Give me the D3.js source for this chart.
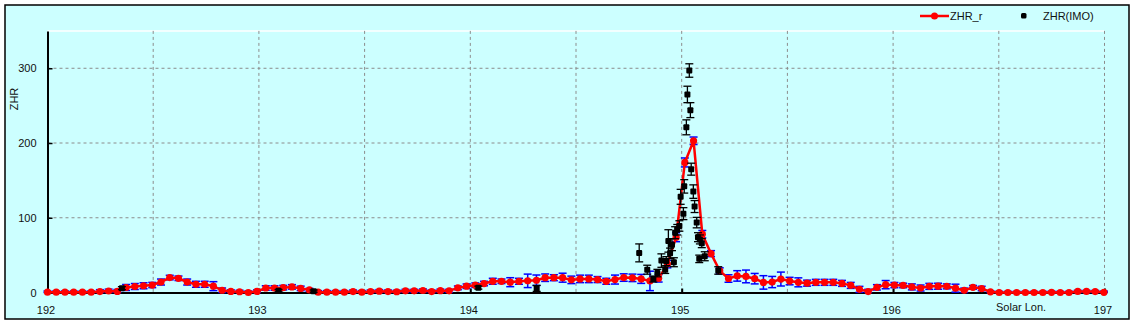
<!DOCTYPE html>
<html><head><meta charset="utf-8">
<script src="https://cdn.jsdelivr.net/npm/d3@7"></script>
<style>
body{margin:0;background:#fff}
svg{display:block}
text{font-family:"Liberation Sans",Arial,sans-serif;font-size:11px;fill:#111}
</style>
</head><body>
<svg id="c" width="1134" height="324"></svg>
<script>
// ---- data ----
const lonStart = 192.0;      // first hourly ZHR_r sample (solar longitude)
const lonStep = 0.0413;      // hourly step in solar longitude
const zhrR = [
 0.5,0.5,0.5,0.5,0.5,0.5,1.3,2,1.5,6.7,
 8,9,10,14,20,19,14,11,11,8.5,
 3,1.5,1,0,1.5,6,6,6.5,7.5,5.5,
 3.5,0.5,0.5,0.5,0.5,1.3,0.5,1.3,1.8,1.3,
 1,2.2,2.2,2.7,1.3,2.5,2.2,6.2,8.4,9.8,
 12,15,15,13.8,15,15.6,16.4,19.8,19.8,19.8,
 16.9,18.2,18.2,17.3,15,17.3,20,19.6,18.2,15.5,
 19,38,74,174,203,78,52,29,18.7,22.2,
 21.5,18.5,13.5,14,18,15.3,13.6,12.5,13.6,13.6,
 13.6,12.2,9.5,4.2,1.3,6.9,10.5,9.9,9.4,7.5,
 6,8.2,8.4,8.2,5.8,2.9,6.9,5.3,0.9,0,
 0,0,0,0,0,0.3,0,0,1.4,1.4,
 1.2,0.3
];
const zhrRErr = [
 1.5,1.5,1.5,1.5,1.5,1.5,2.5,2.5,2.5,4,
 4,4,3.5,4,3,3,4,4,4,6,
 3,2,2,2,2,3,3,3,3,3,
 2,2,2,2,2,2,2,2,2,2,
 2,2,2,2,2,2,2,2.5,3,3,
 3,4,3,6,4,9,7,5,4,6,
 5,5,5,4,4,6,5,5,6,13,
 5,5,6,6,5,5,4,4,5,7,
 8.5,7,9,7.5,9.3,5,6,4,4,4,
 4,4,4,4,3,3.6,5.5,3.5,3,4,
 4,4,4,3.3,5.3,3,2.5,3,1.5,1.5,
 1.5,1.5,1.5,1.5,1.5,1.5,1.5,1.5,1.5,1.5,
 1.5,1.5
];
const imoLon = [192.352,193.093,193.259,194.038,194.314,194.799,194.837,194.866,194.885,194.904,
 194.922,194.927,194.937,194.945,194.954,194.963,194.969,194.979,194.989,194.995,
 195.008,195.012,195.022,195.027,195.036,195.041,195.045,195.055,195.061,195.071,
 195.077,195.086,195.095,195.083,195.109,195.173];
const imoZhr = [5.8,2.5,1.8,6.5,5.5,53,30.5,18,26,42.7,
 30.5,42,69,52.4,64,40.5,80,84,89,128,
 105.5,142,221,265,297,244,165,135,115,93.5,
 74,71,66,45,48.5,29.5];
const imoErr = [2,1.5,1.5,2,4,12,6,4,5,9,
 5,6,15,7,8,6,8,7,7,10,
 8,9,10,11,9,10,8,9,8,7,
 6,6,6,5,6,5];
const xTicks = [192,193,194,195,196,197];
const xGrid = [192.5,193,193.5,194,194.5,195,195.5,196,196.5,197];
const yTicks = [0,100,200,300];
const yGrid = [100,200,300];

// ---- drawing ----
const svg = d3.select('#c');
svg.append('rect').attr('x',5).attr('y',5).attr('width',1124).attr('height',314)
  .attr('fill','#ccffff').attr('stroke','#000').attr('stroke-width',1.5);

const x = d3.scaleLinear().domain([192,197]).range([47.5,1104.5]);
const y = d3.scaleLinear().domain([0,350]).range([292.5,30.9]);

// top white edge of plot
svg.append('line').attr('x1',x(192)).attr('x2',x(197)).attr('y1',y(350)).attr('y2',y(350))
  .attr('stroke','#fff').attr('stroke-width',1.5);

// grid
svg.append('g').selectAll('line').data(xGrid).join('line')
  .attr('x1',d=>x(d)).attr('x2',d=>x(d)).attr('y1',y(350)).attr('y2',y(0))
  .attr('stroke','#8c8c8c').attr('stroke-width',1).attr('stroke-dasharray','3,3');
svg.append('g').selectAll('line').data(yGrid).join('line')
  .attr('x1',x(192)).attr('x2',x(197)).attr('y1',d=>y(d)).attr('y2',d=>y(d))
  .attr('stroke','#8c8c8c').attr('stroke-width',1).attr('stroke-dasharray','3,3');

// axes
const xa = svg.append('g').attr('transform',`translate(0,${y(0)})`)
  .call(d3.axisBottom(x).tickValues(xTicks).tickFormat(d3.format('d')).tickSize(-4).tickSizeOuter(0).tickPadding(14));
xa.select('.domain').attr('stroke','#000').attr('stroke-width',2);
xa.selectAll('.tick line').attr('stroke','#000').attr('stroke-width',2);
xa.selectAll('.tick text').attr('dx',-2).style('font-family','"Liberation Sans",Arial,sans-serif').style('font-size','11px').attr('fill','#111');

const ya = svg.append('g').attr('transform',`translate(${x(192)},0)`)
  .call(d3.axisLeft(y).tickValues(yTicks).tickSize(-5).tickSizeOuter(0).tickPadding(11));
ya.select('.domain').attr('stroke','#000').attr('stroke-width',2);
ya.selectAll('.tick line').attr('stroke','#000').attr('stroke-width',1.5);
ya.selectAll('.tick text').style('font-family','"Liberation Sans",Arial,sans-serif').style('font-size','11px').attr('fill','#111');

svg.append('text').attr('transform','translate(18,99) rotate(-90)').attr('text-anchor','middle').text('ZHR');
svg.append('text').attr('x',996).attr('y',311).text('Solar Lon.');

// ZHR_r
const rData = zhrR.map((v,i)=>({lon: lonStart + i*lonStep, v, e: zhrRErr[i]}));
const eb = svg.append('g').attr('stroke','#0000ff').attr('stroke-width',1.5);
rData.forEach(d=>{
  const cx = x(d.lon), y1 = y(Math.max(0,d.v-d.e)), y2 = y(d.v+d.e);
  eb.append('line').attr('x1',cx).attr('x2',cx).attr('y1',y1).attr('y2',y2);
  eb.append('line').attr('x1',cx-4).attr('x2',cx+4).attr('y1',y1).attr('y2',y1);
  eb.append('line').attr('x1',cx-4).attr('x2',cx+4).attr('y1',y2).attr('y2',y2);
});
svg.append('path').datum(rData)
  .attr('d',d3.line().x(d=>x(d.lon)).y(d=>y(d.v)))
  .attr('fill','none').attr('stroke','#ff0000').attr('stroke-width',2.5);
svg.append('g').selectAll('circle').data(rData).join('circle')
  .attr('cx',d=>x(d.lon)).attr('cy',d=>y(d.v)).attr('r',3.6).attr('fill','#ff0000');

// ZHR(IMO)
const iData = imoZhr.map((v,i)=>({lon: imoLon[i], v, e: imoErr[i]}));
const kb = svg.append('g').attr('stroke','#000').attr('stroke-width',1.3);
iData.forEach(d=>{
  const cx = x(d.lon), y1 = y(Math.max(0,d.v-d.e)), y2 = y(d.v+d.e);
  kb.append('line').attr('x1',cx).attr('x2',cx).attr('y1',y1).attr('y2',y2);
  kb.append('line').attr('x1',cx-4).attr('x2',cx+4).attr('y1',y1).attr('y2',y1);
  kb.append('line').attr('x1',cx-4).attr('x2',cx+4).attr('y1',y2).attr('y2',y2);
});
svg.append('g').selectAll('rect').data(iData).join('rect')
  .attr('x',d=>x(d.lon)-3).attr('y',d=>y(d.v)-3).attr('width',6).attr('height',6).attr('rx',1)
  .attr('fill','#000');

// legend
const lg = svg.append('g');
lg.append('line').attr('x1',920).attr('x2',949).attr('y1',16).attr('y2',16).attr('stroke','#ff0000').attr('stroke-width',2.5);
lg.append('circle').attr('cx',934.5).attr('cy',16).attr('r',3.5).attr('fill','#ff0000');
lg.append('text').attr('x',950).attr('y',20).text('ZHR_r');
lg.append('rect').attr('x',1021).attr('y',13).attr('width',5.5).attr('height',5.5).attr('rx',1.5).attr('fill','#000');
lg.append('text').attr('x',1043).attr('y',20).text('ZHR(IMO)');
</script>
</body></html>
